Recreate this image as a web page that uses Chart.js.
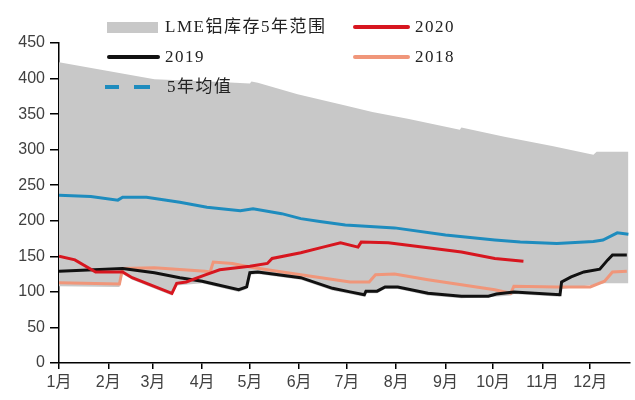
<!DOCTYPE html>
<html lang="zh">
<head>
  <meta charset="UTF-8">
  <title>LME铝库存</title>
  <style>
    body { margin: 0; background: #fff; }
    #wrap { position: relative; width: 635px; height: 400px; }
    #chart { position: absolute; left: 0; top: 0; }
    .lg { position: absolute; font-family: "Liberation Serif", "Noto Sans CJK SC", serif; font-size: 17px; color: #222; letter-spacing: 1.5px; line-height: 20px; white-space: nowrap; }
    .sw { position: absolute; }
  </style>
  <script src="https://cdn.jsdelivr.net/npm/chart.js"></script>
</head>
<body>
  <div id="wrap">
    <canvas id="chart" width="635" height="400"></canvas>
    <div class="sw" style="left:107px;top:22px;width:51px;height:11px;background:#c8c8c8"></div>
    <div class="lg" style="left:165px;top:17px">LME铝库存5年范围</div>
    <div class="sw" style="left:353px;top:25px;width:57px;height:4px;background:#d7161f;border-radius:2px"></div>
    <div class="lg" style="left:415px;top:17px">2020</div>
    <div class="sw" style="left:107px;top:55px;width:53px;height:4px;background:#111;border-radius:2px"></div>
    <div class="lg" style="left:165px;top:47px">2019</div>
    <div class="sw" style="left:353px;top:55px;width:57px;height:4px;background:#f0967a;border-radius:2px"></div>
    <div class="lg" style="left:415px;top:47px">2018</div>
    <div class="sw" style="left:105px;top:85px;width:14px;height:4px;background:#1e8cbe"></div>
    <div class="sw" style="left:134px;top:85px;width:16px;height:4px;background:#1e8cbe"></div>
    <div class="lg" style="left:167px;top:77px">5年均值</div>
  </div>

  <script>
    // x = day of year, tick labels at month starts
    const monthStarts = [0, 31, 59, 90, 120, 151, 181, 212, 243, 273, 304, 334];
    const monthLabels = ['1月', '2月', '3月', '4月', '5月', '6月', '7月', '8月', '9月', '10月', '11月', '12月'];

    // 5-year range (top / bottom of grey band)
    const upperDays = [0, 30, 60, 95, 120, 121, 125, 150, 180, 197, 220, 252, 253, 280, 310, 336, 338, 358];
    const upperVals = [423, 411, 399, 396, 393, 396, 394, 378, 362, 353, 343, 328, 331, 318, 305, 293, 297, 297];
    const lowerDays = [0, 38, 40, 46, 71, 74, 90, 113, 118, 120, 125, 152, 172, 183, 192, 193, 200, 205, 213, 232, 253, 274, 284, 286, 315, 316, 343, 358];
    const lowerVals = [108, 107, 125, 117, 95, 109, 112, 100, 104, 124, 125, 117, 102, 97, 93, 98, 98, 104, 104, 95, 91, 93, 95, 97, 93, 104, 112, 112];

    // 5-year average
    const avgDays = [0, 20, 37, 40, 55, 76, 93, 114, 122, 140, 152, 164, 180, 211, 243, 274, 290, 313, 336, 342, 351, 358];
    const avgVals = [236, 234, 229, 233, 233, 226, 219, 214, 217, 210, 203, 199, 194, 190, 180, 173, 170, 168, 171, 173, 183, 181];

    const days2020 = [0, 10, 23, 40, 46, 71, 74, 80, 92, 101, 120, 131, 134, 152, 166, 177, 188, 190, 207, 232, 253, 274, 292];
    const vals2020 = [150, 145, 128, 128, 120, 98, 112, 114, 124, 131, 136, 140, 147, 155, 163, 169, 163, 170, 169, 162, 156, 147, 143];

    const days2019 = [0, 40, 60, 76, 90, 113, 118, 120, 125, 152, 172, 183, 192, 193, 200, 205, 213, 232, 253, 270, 275, 286, 315, 316, 322, 330, 340, 345, 348, 357];
    const vals2019 = [129, 133, 127, 120, 115, 103, 107, 127, 128, 120, 105, 100, 96, 101, 101, 107, 107, 98, 94, 94, 97, 100, 96, 114, 121, 128, 132, 145, 152, 152];

    const days2018 = [0, 38, 40, 60, 92, 95, 97, 109, 120, 131, 152, 183, 195, 199, 211, 232, 253, 274, 284, 286, 313, 334, 343, 348, 357];
    const vals2018 = [113, 111, 133, 134, 129, 128, 142, 140, 135, 131, 124, 114, 114, 124, 125, 117, 110, 103, 98, 108, 107, 107, 115, 128, 129];

    function pts(days, vals) {
      return days.map((d, i) => ({ x: d, y: vals[i] }));
    }

    function lineSet(label, days, vals, color, order) {
      return {
        label: label,
        data: pts(days, vals),
        borderColor: color,
        borderWidth: 3,
        pointRadius: 0,
        fill: false,
        tension: 0,
        order: order
      };
    }

    new Chart(document.getElementById('chart'), {
      type: 'line',
      data: {
        datasets: [
          {
            label: 'LME铝库存5年范围',
            data: pts(upperDays, upperVals),
            borderWidth: 0,
            pointRadius: 0,
            backgroundColor: '#c8c8c8',
            fill: '+1',
            order: 10
          },
          {
            label: 'low',
            data: pts(lowerDays, lowerVals),
            borderWidth: 0,
            pointRadius: 0,
            fill: false,
            order: 11
          },
          lineSet('2018', days2018, vals2018, '#f0967a', 4),
          lineSet('2019', days2019, vals2019, '#111111', 3),
          lineSet('5年均值', avgDays, avgVals, '#1e8cbe', 2),
          lineSet('2020', days2020, vals2020, '#d7161f', 1)
        ]
      },
      options: {
        responsive: false,
        animation: false,
        layout: { padding: { left: 0, top: 43, right: 5, bottom: 0 } },
        plugins: {
          legend: { display: false },
          tooltip: { enabled: false },
          filler: { drawTime: 'beforeDatasetsDraw' }
        },
        scales: {
          x: {
            type: 'linear',
            min: 0,
            max: 359,
            afterFit: s => { s.height = 37; },
            afterBuildTicks: s => { s.ticks = monthStarts.map(v => ({ value: v })); },
            grid: { drawOnChartArea: false, drawTicks: true, tickLength: 6, color: '#000', lineWidth: 1.5 },
            border: { display: true, color: '#000', width: 1.5 },
            ticks: {
              padding: 4,
              maxRotation: 0,
              autoSkip: false,
              color: '#404040',
              font: { family: 'Liberation Sans, Noto Sans CJK SC', size: 16 },
              callback: (v, i) => monthLabels[i]
            }
          },
          y: {
            min: 0,
            max: 450,
            afterFit: s => { s.width = 59; },
            grid: { drawOnChartArea: false, drawTicks: true, tickLength: 9, color: '#000', lineWidth: 1.5 },
            border: { display: true, color: '#000', width: 1.5 },
            ticks: {
              stepSize: 50,
              padding: 5,
              color: '#404040',
              font: { family: 'Liberation Sans', size: 16 }
            }
          }
        }
      }
    });
  </script>
</body>
</html>
